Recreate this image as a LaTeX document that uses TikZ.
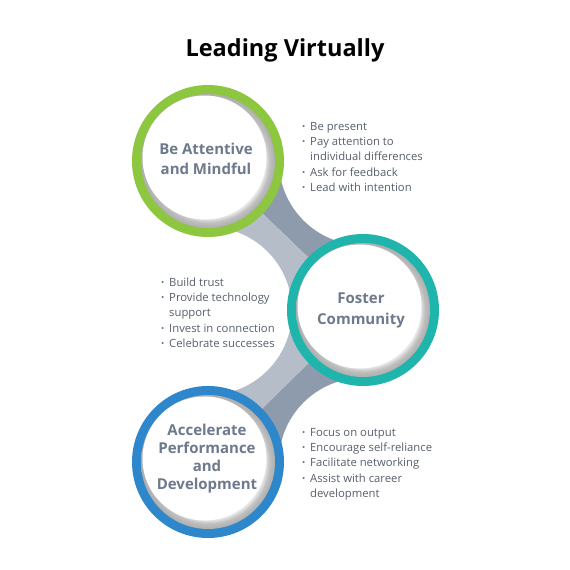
\documentclass[tikz,border=0pt]{standalone}
\usepackage{fontspec}
\setmainfont{Open Sans}
\usetikzlibrary{calc}
\definecolor{ringgreen}{HTML}{8DC63F}
\definecolor{ringteal}{HTML}{1FB5AC}
\definecolor{ringblue}{HTML}{2E87CB}
\definecolor{bandlight}{HTML}{B5BDC9}
\definecolor{banddark}{HTML}{8E9BAC}
\definecolor{labelcol}{HTML}{6D798C}
\definecolor{bulletcol}{HTML}{575F6C}
\pgfdeclareradialshading{discshadow}{\pgfpoint{0bp}{0bp}}{color(0bp)=(white); color(20.5bp)=(white); color(23bp)=(black!25); color(25bp)=(black!32); color(50bp)=(black!32)}
\newcommand\myring[2]{%
  \fill[#2] (#1) circle (76pt);
  \shade[shading=discshadow] (#1) circle (67pt);
  \fill[white] ($(#1)+(-3.5,-3.5)$) circle (62pt);
}
\newcommand\bl{\makebox[8pt][l]{\textbf{·}}}
\begin{document}
\begin{tikzpicture}[x=1pt,y=-1pt,
  lab/.style={align=center,text=labelcol,inner sep=0pt},
  bul/.style={text=bulletcol,inner sep=0pt,font=\fontsize{11.3}{15.1}\selectfont,anchor=base west}]
\useasboundingbox (0,0) rectangle (570,570);
\fill[white] (0,0) rectangle (570,570);
\coordinate (c1) at (208,161);
\coordinate (c2) at (363,310);
\coordinate (c3) at (208,462);
% bands
\fill[banddark] (c1) -- (253.7,113.4) -- (408.7,262.4) -- (c2) -- cycle;
\fill[bandlight] (c1) -- (162.3,208.6) -- (317.3,357.6) -- (c2) -- cycle;
\fill[bandlight] (c2) -- (316.8,262.9) -- (161.8,414.9) -- (c3) -- cycle;
\fill[banddark] (c2) -- (409.2,357.1) -- (254.2,509.1) -- (c3) -- cycle;
% concave cut-outs
\fill[white] (363,161) circle (84pt);
\fill[white] (208,311) circle (84pt);
\fill[white] (363,462) circle (84pt);
% rings
\myring{c1}{ringgreen}
\myring{c2}{ringteal}
\myring{c3}{ringblue}
% labels
\node[lab,font=\bfseries\fontsize{15}{20}\selectfont] (l1) at (206,159) {Be Attentive\\and Mindful};
\node[lab,font=\bfseries\fontsize{15}{21}\selectfont] (l2) at (361,310) {Foster\\Community};
\node[lab,font=\bfseries\fontsize{15}{18}\selectfont] (l3) at (207,459) {Accelerate\\Performance\\and\\Development};
% bullets
\node[bul] (b1) at (302,130.7) {\begin{tabular}[t]{@{}l@{}}\bl Be present\\\bl Pay attention to\\\hspace{8pt}individual differences\\\bl Ask for feedback\\\bl Lead with intention\end{tabular}};
\node[bul] (b2) at (161,286.7) {\begin{tabular}[t]{@{}l@{}}\bl Build trust\\\bl Provide technology\\\hspace{8pt}support\\\bl Invest in connection\\\bl Celebrate successes\end{tabular}};
\node[bul] (b3) at (302,436.7) {\begin{tabular}[t]{@{}l@{}}\bl Focus on output\\\bl Encourage self-reliance\\\bl Facilitate networking\\\bl Assist with career\\\hspace{8pt}development\end{tabular}};
% title
\node[anchor=base,inner sep=0pt,font=\bfseries\fontsize{23.5}{28}\selectfont] (title) at (285,56) {Leading Virtually};
\end{tikzpicture}
\end{document}
